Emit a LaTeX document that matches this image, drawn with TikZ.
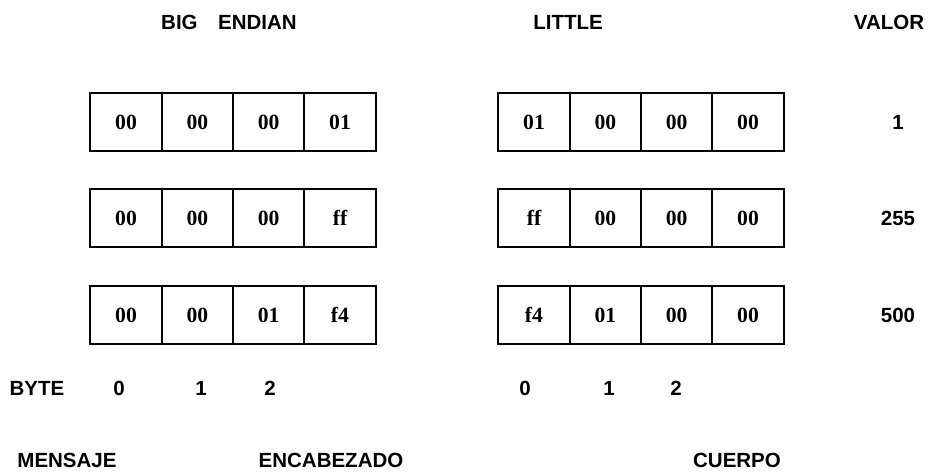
\documentclass[tikz,border=0pt]{standalone}
\usepackage{fontspec}
\setmainfont{Liberation Serif}
\newfontfamily\labelfont{Liberation Sans}
\usetikzlibrary{positioning}

\begin{document}
\begin{tikzpicture}[
    x=0.03cm, y=-0.03cm, node distance=0pt,
    cell/.style={draw, line width=1.9pt, outer sep=0pt, inner sep=0pt, minimum width=2.14cm, minimum height=1.72cm, font=\fontsize{18.5}{20}\selectfont\bfseries},
    lbl/.style={inner sep=0pt, font=\labelfont\fontsize{17.5}{20}\selectfont\bfseries}
  ]
  \useasboundingbox (0,0) rectangle (931,474);

  % column titles
  \node[lbl] (tbig)    at (229,22) {BIG\quad ENDIAN};
  \node[lbl] (tlittle) at (568,22) {LITTLE};
  \node[lbl] (tvalor)  at (889,22) {VALOR};

  % big endian
  \node[cell] (be1a) at (126,122) {00};
  \node[cell, right=of be1a] (be1b) {00};
  \node[cell, right=of be1b] (be1c) {00};
  \node[cell, right=of be1c] (be1d) {01};
  \node[cell] (be2a) at (126,218) {00};
  \node[cell, right=of be2a] (be2b) {00};
  \node[cell, right=of be2b] (be2c) {00};
  \node[cell, right=of be2c] (be2d) {ff};
  \node[cell] (be3a) at (126,315) {00};
  \node[cell, right=of be3a] (be3b) {00};
  \node[cell, right=of be3b] (be3c) {01};
  \node[cell, right=of be3c] (be3d) {f4};

  % little endian
  \node[cell] (le1a) at (534,122) {01};
  \node[cell, right=of le1a] (le1b) {00};
  \node[cell, right=of le1b] (le1c) {00};
  \node[cell, right=of le1c] (le1d) {00};
  \node[cell] (le2a) at (534,218) {ff};
  \node[cell, right=of le2a] (le2b) {00};
  \node[cell, right=of le2b] (le2c) {00};
  \node[cell, right=of le2c] (le2d) {00};
  \node[cell] (le3a) at (534,315) {f4};
  \node[cell, right=of le3a] (le3b) {01};
  \node[cell, right=of le3b] (le3c) {00};
  \node[cell, right=of le3c] (le3d) {00};

  % values
  \node[lbl] (v1)   at (898,122) {1};
  \node[lbl] (v255) at (898,218) {255};
  \node[lbl] (v500) at (898,315) {500};

  % byte numbers
  \node[lbl] (byte) at (37,388)  {BYTE};
  \node[lbl] (bl0)  at (119,388) {0};
  \node[lbl] (bl1)  at (201,388) {1};
  \node[lbl] (bl2)  at (270,388) {2};
  \node[lbl] (br0)  at (525,388) {0};
  \node[lbl] (br1)  at (609,388) {1};
  \node[lbl] (br2)  at (676,388) {2};

  % message parts
  \node[lbl] (mensaje) at (67,460)  {MENSAJE};
  \node[lbl] (encab)   at (331,460) {ENCABEZADO};
  \node[lbl] (cuerpo)  at (737,460) {CUERPO};
\end{tikzpicture}
\end{document}
